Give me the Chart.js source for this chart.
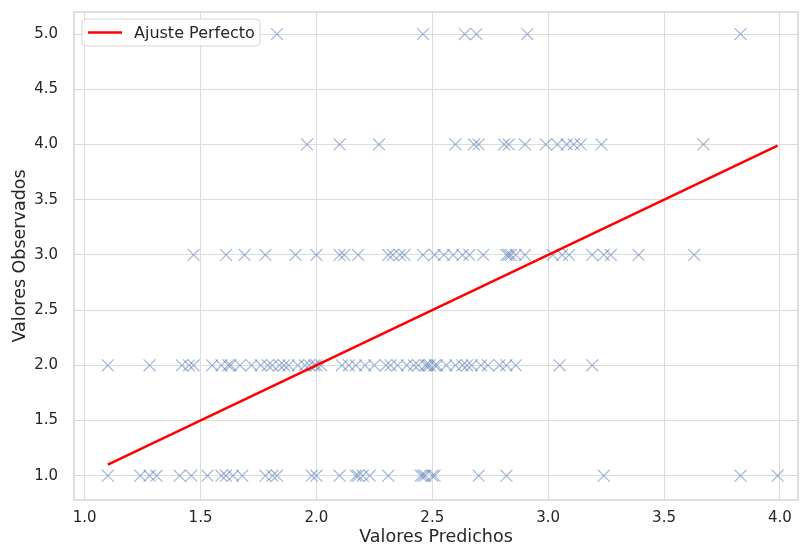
<!DOCTYPE html>
<html>
<head>
<meta charset="utf-8">
<script src="https://cdn.jsdelivr.net/npm/chart.js@4"></script>
<style>
  html, body { margin: 0; padding: 0; background: #ffffff; }
  #wrap { width: 800px; height: 546px; }
</style>
</head>
<body>
<div id="wrap"><canvas id="grafico" width="800" height="546"></canvas></div>
<script>
// Valores predichos agrupados por valor observado (1..5)
const predAt1 = [1.10, 1.24, 1.28, 1.31, 1.41, 1.46, 1.53, 1.59, 1.61, 1.64, 1.68, 1.78, 1.81, 1.83,
                 1.98, 2.00, 2.10, 2.17, 2.18, 2.20, 2.23, 2.31, 2.45, 2.46, 2.47, 2.50, 2.51,
                 2.70, 2.82, 3.24, 3.83, 3.99];
const predAt2 = [1.10, 1.28, 1.42, 1.45, 1.47, 1.55, 1.59, 1.62, 1.63, 1.67, 1.72, 1.76, 1.79, 1.81,
                 1.84, 1.86, 1.88, 1.92, 1.95, 1.97, 1.99, 2.00, 2.02, 2.11, 2.14, 2.17, 2.21,
                 2.25, 2.30, 2.32, 2.35, 2.39, 2.42, 2.44, 2.47, 2.48, 2.49, 2.51, 2.52, 2.56,
                 2.60, 2.63, 2.65, 2.67, 2.71, 2.74, 2.79, 2.82, 2.86, 3.05, 3.19];
const predAt3 = [1.47, 1.61, 1.69, 1.78, 1.91, 2.00, 2.10, 2.12, 2.18, 2.31, 2.33, 2.36, 2.38, 2.46,
                 2.51, 2.55, 2.59, 2.63, 2.66, 2.72, 2.82, 2.83, 2.84, 2.86, 2.90, 3.02, 3.06,
                 3.09, 3.19, 3.24, 3.27, 3.39, 3.63];
const predAt4 = [1.96, 2.10, 2.27, 2.60, 2.68, 2.70, 2.81, 2.83, 2.90, 2.99, 3.04, 3.08, 3.11, 3.14,
                 3.23, 3.67];
const predAt5 = [1.83, 2.46, 2.64, 2.69, 2.91, 3.83];

const observedLevels = [1, 2, 3, 4, 5];
const xTickValues = [1.0, 1.5, 2.0, 2.5, 3.0, 3.5, 4.0];
const yTickValues = [1.0, 1.5, 2.0, 2.5, 3.0, 3.5, 4.0, 4.5, 5.0];

const predGroups = [predAt1, predAt2, predAt3, predAt4, predAt5];
const puntos = [];
predGroups.forEach((grupo, i) => {
    grupo.forEach(p => puntos.push({ x: p, y: observedLevels[i] }));
});

const todos = predGroups.flat();
const minPred = Math.min(...todos);
const maxPred = Math.max(...todos);
const lineaPerfecta = [{ x: minPred, y: minPred }, { x: maxPred, y: maxPred }];

const colorTexto = '#262626';
const colorGrid = '#dcdcdc';
const colorBorde = '#cccccc';
const fuente = 'DejaVu Sans';

// quita el relleno automático que Chart.js añade por las etiquetas
function fijarEje(s, ancho, alto) {
    if (ancho) s.width = ancho;
    if (alto) s.height = alto;
    s.paddingTop = 0;
    s.paddingBottom = 0;
    s.paddingLeft = 0;
    s.paddingRight = 0;
}

// Marco completo alrededor del área del gráfico (como los spines de matplotlib)
const marcoPlugin = {
    id: 'marco',
    afterDatasetsDraw(chart) {
        const { ctx, chartArea: a } = chart;
        ctx.save();
        ctx.strokeStyle = colorBorde;
        ctx.lineWidth = 1.25;
        ctx.strokeRect(a.left, a.top, a.right - a.left, a.bottom - a.top);
        ctx.restore();
    }
};

// Leyenda dentro del área, arriba a la izquierda
const leyendaPlugin = {
    id: 'leyendaInterna',
    afterDraw(chart) {
        const { ctx, chartArea: a } = chart;
        const x = a.left + 8, y = a.top + 7, w = 178, h = 27;
        ctx.save();
        ctx.beginPath();
        ctx.roundRect(x, y, w, h, 4);
        ctx.fillStyle = 'rgba(255,255,255,0.8)';
        ctx.fill();
        ctx.strokeStyle = '#d6d6d6';
        ctx.lineWidth = 1;
        ctx.stroke();
        ctx.beginPath();
        ctx.moveTo(x + 6, y + h / 2);
        ctx.lineTo(x + 40, y + h / 2);
        ctx.strokeStyle = '#ff0000';
        ctx.lineWidth = 2.5;
        ctx.stroke();
        ctx.fillStyle = colorTexto;
        ctx.font = '16px "' + fuente + '"';
        ctx.textBaseline = 'middle';
        ctx.fillText('Ajuste Perfecto', x + 52, y + h / 2 + 1);
        ctx.restore();
    }
};

const ctx = document.getElementById('grafico').getContext('2d');
new Chart(ctx, {
    type: 'scatter',
    data: {
        datasets: [
            {
                type: 'line',
                label: 'Ajuste Perfecto',
                data: lineaPerfecta,
                borderColor: '#ff0000',
                borderWidth: 2.5,
                pointRadius: 0,
                fill: false,
                order: 0
            },
            {
                label: 'Observaciones',
                data: puntos,
                pointStyle: 'crossRot',
                pointRadius: 8.4,
                pointBorderWidth: 1.2,
                borderColor: 'rgba(76, 114, 176, 0.5)',
                backgroundColor: 'rgba(76, 114, 176, 0.5)',
                order: 1
            }
        ]
    },
    options: {
        responsive: false,
        animation: false,
        devicePixelRatio: 1,
        layout: { autoPadding: false, padding: { top: 12, right: 2, left: 0, bottom: 0 } },
        plugins: {
            legend: { display: false },
            tooltip: { enabled: false }
        },
        scales: {
            x: {
                type: 'linear',
                min: 0.954,
                max: 4.078,
                afterFit: s => fijarEje(s, 0, 46),
                afterBuildTicks: s => { s.ticks = xTickValues.map(v => ({ value: v })); },
                grid: { color: colorGrid, lineWidth: 1, drawTicks: false },
                border: { display: false },
                ticks: {
                    padding: 9,
                    color: colorTexto,
                    font: { family: fuente, size: 15 },
                    callback: v => v.toFixed(1)
                },
                title: {
                    display: true,
                    text: 'Valores Predichos',
                    color: colorTexto,
                    font: { family: fuente, size: 17.5, lineHeight: 1 },
                    padding: { top: 0, bottom: 0 }
                }
            },
            y: {
                type: 'linear',
                min: 0.78,
                max: 5.2,
                afterFit: s => fijarEje(s, 74, 0),
                afterBuildTicks: s => { s.ticks = yTickValues.map(v => ({ value: v })); },
                grid: { color: colorGrid, lineWidth: 1, drawTicks: false },
                border: { display: false },
                ticks: {
                    padding: 16,
                    color: colorTexto,
                    font: { family: fuente, size: 15 },
                    callback: v => v.toFixed(1)
                },
                title: {
                    display: true,
                    text: 'Valores Observados',
                    color: colorTexto,
                    font: { family: fuente, size: 17.5, lineHeight: 1 },
                    padding: { top: 12, bottom: 0 }
                }
            }
        }
    },
    plugins: [marcoPlugin, leyendaPlugin]
});
</script>
</body>
</html>
